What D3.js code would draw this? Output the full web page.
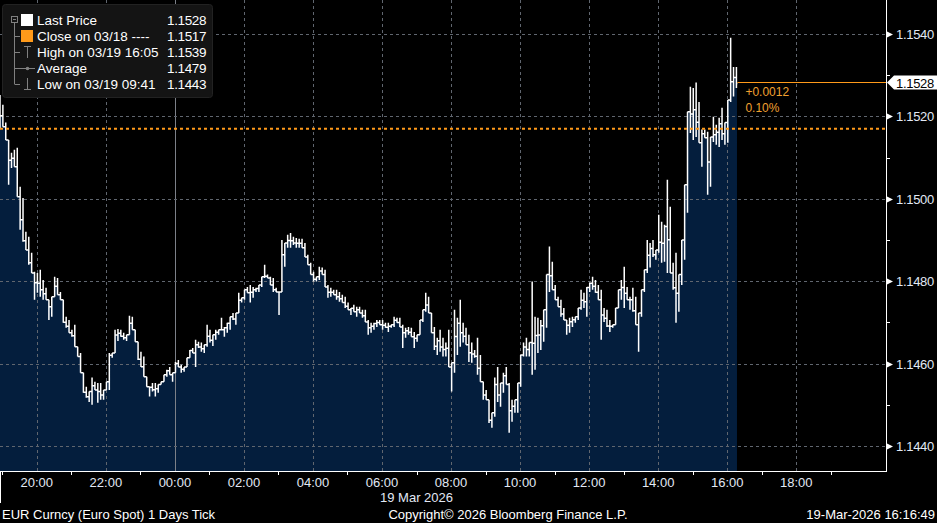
<!DOCTYPE html>
<meta charset="utf-8">
<script src="https://d3js.org/d3.v7.min.js"></script>
<style>
  body { margin: 0; background: #000; }
  svg { display: block; font-family: "Liberation Sans", Arial, sans-serif; }
</style>
<body>
<div id="chart"></div>
<script>
// EUR spot, 5 minute bars starting 18:56 on 18 Mar 2026
var barStart = new Date(2026, 2, 18, 18, 56);
var barMinutes = 5;

var barHigh = [
  1.15252, 1.15228, 1.15185, 1.15119, 1.15112, 1.15119, 1.15124, 1.15029, 1.15002, 1.14920,
  1.14908, 1.14869, 1.14823, 1.14820, 1.14828, 1.14803, 1.14784, 1.14755, 1.14762, 1.14811,
  1.14808, 1.14774, 1.14755, 1.14714, 1.14706, 1.14682, 1.14694, 1.14641, 1.14626, 1.14549,
  1.14544, 1.14532, 1.14566, 1.14556, 1.14553, 1.14553, 1.14536, 1.14556, 1.14626, 1.14626,
  1.14682, 1.14684, 1.14682, 1.14675, 1.14670, 1.14716, 1.14714, 1.14682, 1.14653, 1.14629,
  1.14617, 1.14566, 1.14544, 1.14553, 1.14553, 1.14549, 1.14556, 1.14573, 1.14585, 1.14592,
  1.14578, 1.14604, 1.14609, 1.14597, 1.14592, 1.14614, 1.14633, 1.14638, 1.14658, 1.14653,
  1.14651, 1.14646, 1.14694, 1.14682, 1.14670, 1.14682, 1.14682, 1.14711, 1.14689, 1.14699,
  1.14714, 1.14723, 1.14723, 1.14772, 1.14760, 1.14779, 1.14786, 1.14791, 1.14786, 1.14784,
  1.14791, 1.14811, 1.14840, 1.14816, 1.14811, 1.14808, 1.14784, 1.14774, 1.14900, 1.14893,
  1.14913, 1.14917, 1.14908, 1.14905, 1.14903, 1.14903, 1.14893, 1.14864, 1.14845, 1.14823,
  1.14811, 1.14835, 1.14833, 1.14828, 1.14791, 1.14784, 1.14779, 1.14779, 1.14774, 1.14767,
  1.14762, 1.14748, 1.14735, 1.14743, 1.14738, 1.14738, 1.14731, 1.14731, 1.14706, 1.14699,
  1.14699, 1.14706, 1.14706, 1.14706, 1.14699, 1.14699, 1.14694, 1.14714, 1.14711, 1.14711,
  1.14694, 1.14687, 1.14689, 1.14687, 1.14677, 1.14670, 1.14706, 1.14731, 1.14772, 1.14762,
  1.14723, 1.14689, 1.14663, 1.14682, 1.14663, 1.14651, 1.14682, 1.14602, 1.14731, 1.14711,
  1.14755, 1.14699, 1.14687, 1.14670, 1.14651, 1.14633, 1.14663, 1.14621, 1.14556, 1.14536,
  1.14488, 1.14481, 1.14566, 1.14592, 1.14553, 1.14578, 1.14592, 1.14553, 1.14512, 1.14512,
  1.14553, 1.14621, 1.14651, 1.14663, 1.14651, 1.14799, 1.14714, 1.14711, 1.14706, 1.14731,
  1.14816, 1.14884, 1.14847, 1.14791, 1.14762, 1.14755, 1.14735, 1.14706, 1.14711, 1.14714,
  1.14714, 1.14735, 1.14779, 1.14772, 1.14786, 1.14796, 1.14811, 1.14803, 1.14791, 1.14779,
  1.14735, 1.14731, 1.14706, 1.14694, 1.14735, 1.14779, 1.14803, 1.14835, 1.14786, 1.14762,
  1.14784, 1.14762, 1.14723, 1.14779, 1.14828, 1.14900, 1.14893, 1.14900, 1.14876, 1.14961,
  1.14944, 1.14937, 1.15046, 1.14981, 1.14845, 1.14869, 1.14816, 1.14900, 1.15034, 1.15211,
  1.15272, 1.15269, 1.15282, 1.15235, 1.15168, 1.15168, 1.15163, 1.15150, 1.15199, 1.15180,
  1.15197, 1.15221, 1.15185, 1.15240, 1.15391, 1.15320, 1.15320
];

var barLow = [
  1.15172, 1.15175, 1.15143, 1.15034, 1.15075, 1.15078, 1.15005, 1.14925, 1.14896, 1.14876,
  1.14840, 1.14820, 1.14755, 1.14772, 1.14762, 1.14755, 1.14755, 1.14706, 1.14714, 1.14772,
  1.14767, 1.14755, 1.14699, 1.14687, 1.14675, 1.14665, 1.14641, 1.14617, 1.14578, 1.14529,
  1.14517, 1.14507, 1.14500, 1.14536, 1.14505, 1.14512, 1.14512, 1.14544, 1.14536, 1.14614,
  1.14633, 1.14655, 1.14665, 1.14658, 1.14655, 1.14675, 1.14682, 1.14653, 1.14609, 1.14592,
  1.14568, 1.14544, 1.14520, 1.14532, 1.14520, 1.14529, 1.14549, 1.14556, 1.14568, 1.14573,
  1.14556, 1.14585, 1.14592, 1.14578, 1.14580, 1.14592, 1.14614, 1.14626, 1.14592, 1.14638,
  1.14629, 1.14626, 1.14641, 1.14651, 1.14643, 1.14658, 1.14670, 1.14682, 1.14665, 1.14675,
  1.14682, 1.14706, 1.14694, 1.14723, 1.14748, 1.14755, 1.14772, 1.14748, 1.14760, 1.14774,
  1.14774, 1.14786, 1.14808, 1.14808, 1.14791, 1.14774, 1.14774, 1.14718, 1.14779, 1.14835,
  1.14881, 1.14881, 1.14888, 1.14881, 1.14881, 1.14881, 1.14859, 1.14840, 1.14816, 1.14799,
  1.14799, 1.14803, 1.14816, 1.14786, 1.14760, 1.14762, 1.14767, 1.14755, 1.14750, 1.14748,
  1.14735, 1.14731, 1.14718, 1.14726, 1.14714, 1.14723, 1.14711, 1.14701, 1.14670, 1.14675,
  1.14682, 1.14689, 1.14694, 1.14682, 1.14687, 1.14677, 1.14687, 1.14689, 1.14699, 1.14689,
  1.14638, 1.14663, 1.14670, 1.14665, 1.14638, 1.14653, 1.14699, 1.14701, 1.14726, 1.14723,
  1.14675, 1.14633, 1.14621, 1.14629, 1.14617, 1.14617, 1.14592, 1.14532, 1.14578, 1.14621,
  1.14641, 1.14651, 1.14646, 1.14604, 1.14602, 1.14614, 1.14573, 1.14556, 1.14512, 1.14512,
  1.14456, 1.14444, 1.14471, 1.14507, 1.14495, 1.14529, 1.14549, 1.14432, 1.14459, 1.14481,
  1.14481, 1.14544, 1.14617, 1.14617, 1.14617, 1.14573, 1.14585, 1.14626, 1.14633, 1.14653,
  1.14687, 1.14774, 1.14779, 1.14755, 1.14738, 1.14714, 1.14706, 1.14670, 1.14675, 1.14689,
  1.14699, 1.14706, 1.14731, 1.14735, 1.14714, 1.14774, 1.14779, 1.14772, 1.14755, 1.14658,
  1.14701, 1.14689, 1.14677, 1.14687, 1.14706, 1.14755, 1.14755, 1.14735, 1.14755, 1.14731,
  1.14726, 1.14694, 1.14629, 1.14714, 1.14774, 1.14820, 1.14833, 1.14859, 1.14852, 1.14869,
  1.14845, 1.14847, 1.14820, 1.14820, 1.14779, 1.14699, 1.14726, 1.14791, 1.14852, 1.14966,
  1.15160, 1.15143, 1.15150, 1.15136, 1.15078, 1.15148, 1.15010, 1.15029, 1.15138, 1.15131,
  1.15126, 1.15143, 1.15131, 1.15136, 1.15235, 1.15248, 1.15269
];

var yTicks = [1.1440, 1.1460, 1.1480, 1.1500, 1.1520, 1.1540];
var yMinorTicks = [1.1450, 1.1470, 1.1490, 1.1510, 1.1530];
var prevClose = 1.1517;
var lastPrice = 1.1528;
var changeLabels = ["+0.0012", "0.10%"];
var dateLabel = "19 Mar 2026";

var legendNames = ["Last Price", "Close on 03/18 ----", "High on 03/19 16:05", "Average", "Low on 03/19 09:41"];
var legendValues = ["1.1528", "1.1517", "1.1539", "1.1479", "1.1443"];

var footerLeft = "EUR Curncy (Euro Spot) 1 Days Tick";
var footerMid = "Copyright\u00a9 2026 Bloomberg Finance L.P.";
var footerRight = "19-Mar-2026 16:16:49";

var W = 937, H = 523;
var plotRight = 886, plotBottom = 471;
var orange = "#ff9a1a";
var axisText = "#e2e9f5";
var gridColor = "#60666f";

var svg = d3.select("#chart").append("svg")
  .attr("width", W)
  .attr("height", H);

svg.append("rect").attr("width", W).attr("height", H).attr("fill", "#000");

var x = d3.scaleTime()
  .domain([new Date(2026, 2, 18, 18, 56), new Date(2026, 2, 19, 20, 36)])
  .range([0, plotRight]);

var y = d3.scaleLinear()
  .domain([1.1440, 1.1540])
  .range([446, 34]);

svg.append("clipPath").attr("id", "plotclip")
  .append("rect").attr("width", plotRight).attr("height", plotBottom);

var plot = svg.append("g").attr("clip-path", "url(#plotclip)");

// bars and the level where each one hands over to the next
var bars = barHigh.map(function(h, i) {
  return { t: d3.timeMinute.offset(barStart, i * barMinutes), hi: h, lo: barLow[i] };
});
bars.forEach(function(b, i) {
  var target = i < bars.length - 1 ? (bars[i + 1].hi + bars[i + 1].lo) / 2 : lastPrice;
  b.c = Math.max(b.lo, Math.min(b.hi, target));
});

// filled area under the price
var areaPts = bars.concat([{ t: d3.timeMinute.offset(bars[bars.length - 1].t, 1), c: bars[bars.length - 1].c }]);
plot.append("path")
  .datum(areaPts)
  .attr("fill", "#041e3d")
  .attr("d", d3.area()
    .x(function(d) { return x(d.t); })
    .y0(plotBottom)
    .y1(function(d) { return y(d.c); })
    .curve(d3.curveStepAfter));

// grid
var evenHours = d3.timeHour.every(2).range(new Date(2026, 2, 18, 20), new Date(2026, 2, 19, 19));
plot.selectAll(".vgrid")
  .data(evenHours)
  .enter().append("line")
    .attr("x1", function(d) { return Math.round(x(d)) + 0.5; })
    .attr("x2", function(d) { return Math.round(x(d)) + 0.5; })
    .attr("y1", 0)
    .attr("y2", plotBottom)
    .attr("stroke", function(d) { return d.getHours() === 0 ? "#7c8088" : gridColor; })
    .attr("stroke-dasharray", function(d) { return d.getHours() === 0 ? null : "3,3"; });

plot.selectAll(".hgrid")
  .data(yTicks)
  .enter().append("line")
    .attr("x1", 0)
    .attr("x2", plotRight)
    .attr("y1", function(d) { return Math.round(y(d)) + 0.5; })
    .attr("y2", function(d) { return Math.round(y(d)) + 0.5; })
    .attr("stroke", gridColor)
    .attr("stroke-dasharray", "3,3");

// white bars
var pathD = "";
bars.forEach(function(b, i) {
  var bx = x(b.t);
  var top = b.hi, bot = b.lo;
  if (i > 0) { top = Math.max(top, bars[i - 1].c); bot = Math.min(bot, bars[i - 1].c); }
  pathD += "M" + bx + "," + y(top) + "V" + y(bot);
  var nx = i < bars.length - 1 ? x(bars[i + 1].t) : bx + 1;
  pathD += "M" + bx + "," + y(b.c) + "H" + nx;
});
plot.append("path")
  .attr("d", pathD)
  .attr("fill", "none")
  .attr("stroke", "#fff")
  .attr("stroke-width", 1.5);

// previous close
plot.append("line")
  .attr("x1", 0).attr("x2", plotRight)
  .attr("y1", y(prevClose)).attr("y2", y(prevClose))
  .attr("stroke", orange)
  .attr("stroke-width", 2)
  .attr("stroke-dasharray", "3,3");

// last price line and change
var lastX = x(bars[bars.length - 1].t) + 1;
var ly = Math.round(y(lastPrice)) - 0.5;
svg.append("line")
  .attr("x1", lastX).attr("x2", plotRight)
  .attr("y1", ly).attr("y2", ly)
  .attr("stroke", orange)
  .attr("stroke-width", 1.2);

svg.selectAll(".chg")
  .data(changeLabels)
  .enter().append("text")
    .attr("x", lastX + 8)
    .attr("y", function(d, i) { return y(lastPrice) + 13 + i * 16; })
    .attr("fill", "#f0a030")
    .style("font-size", "12px")
    .text(function(d) { return d; });

// right axis
svg.append("line")
  .attr("x1", plotRight + 0.5).attr("x2", plotRight + 0.5)
  .attr("y1", 0).attr("y2", plotBottom)
  .attr("stroke", "#fff");

svg.selectAll(".ytri")
  .data(yTicks)
  .enter().append("path")
    .attr("d", function(d) {
      var ty = Math.round(y(d)) + 0.5;
      return "M" + (plotRight + 1) + "," + (ty - 3) + "L" + (plotRight + 7) + "," + ty + "L" + (plotRight + 1) + "," + (ty + 3) + "Z";
    })
    .attr("fill", "#fff");

svg.selectAll(".yminor")
  .data(yMinorTicks)
  .enter().append("line")
    .attr("x1", plotRight).attr("x2", plotRight + 4)
    .attr("y1", function(d) { return Math.round(y(d)) + 0.5; })
    .attr("y2", function(d) { return Math.round(y(d)) + 0.5; })
    .attr("stroke", "#fff");

svg.selectAll(".ylab")
  .data(yTicks)
  .enter().append("text")
    .attr("x", plotRight + 10)
    .attr("y", function(d) { return y(d) + 5; })
    .attr("fill", axisText)
    .style("font-size", "13px")
    .style("letter-spacing", "-0.3px")
    .text(function(d) { return d3.format(".4f")(d); });

// last price tag
svg.append("path")
  .attr("d", "M" + (plotRight + 1) + "," + ly + "L" + (plotRight + 8) + "," + (ly - 7) + "H" + W + "V" + (ly + 7) + "H" + (plotRight + 8) + "Z")
  .attr("fill", "#fff");
svg.append("text")
  .attr("x", plotRight + 10)
  .attr("y", ly + 5)
  .attr("fill", "#000")
  .style("font-size", "13px")
  .style("letter-spacing", "-0.3px")
  .text(d3.format(".4f")(lastPrice));

// bottom axis
svg.append("line")
  .attr("x1", 0).attr("x2", plotRight + 1)
  .attr("y1", plotBottom + 0.5).attr("y2", plotBottom + 0.5)
  .attr("stroke", "#fff");
svg.append("line")
  .attr("x1", 0.5).attr("x2", 0.5)
  .attr("y1", plotBottom).attr("y2", 503)
  .attr("stroke", "#fff");

var oddHours = d3.timeHour.every(1).range(new Date(2026, 2, 18, 19), new Date(2026, 2, 19, 20))
  .filter(function(d) { return d.getHours() % 2 === 1; });
svg.selectAll(".xtick")
  .data(oddHours)
  .enter().append("line")
    .attr("x1", function(d) { return Math.round(x(d)) + 0.5; })
    .attr("x2", function(d) { return Math.round(x(d)) + 0.5; })
    .attr("y1", plotBottom).attr("y2", plotBottom + 4)
    .attr("stroke", "#fff");

svg.selectAll(".xlab")
  .data(evenHours)
  .enter().append("text")
    .attr("x", function(d) { return x(d); })
    .attr("y", 487)
    .attr("text-anchor", "middle")
    .attr("fill", axisText)
    .style("font-size", "13px")
    .text(d3.timeFormat("%H:%M"));

svg.append("text")
  .attr("x", x(new Date(2026, 2, 19, 7)))
  .attr("y", 502)
  .attr("text-anchor", "middle")
  .attr("fill", axisText)
  .style("font-size", "13px")
  .text(dateLabel);

// footer
svg.append("text").attr("x", 2).attr("y", 519).attr("fill", "#fff")
  .style("font-size", "13px").text(footerLeft);
svg.append("text").attr("x", 508).attr("y", 519).attr("fill", "#fff")
  .attr("text-anchor", "middle").style("font-size", "13px").text(footerMid);
svg.append("text").attr("x", 935).attr("y", 519).attr("fill", "#fff")
  .attr("text-anchor", "end").style("font-size", "13px").text(footerRight);

// legend
var lg = svg.append("g");
lg.append("rect")
  .attr("x", 2.5).attr("y", 4.5).attr("width", 210).attr("height", 93).attr("rx", 3)
  .attr("fill", "#141414").attr("stroke", "#222");

var rowY = function(i) { return 20 + i * 16; };
var icon = "#808080";
lg.append("rect").attr("x", 11.5).attr("y", 16.5).attr("width", 6).attr("height", 6)
  .attr("fill", "none").attr("stroke", icon);
lg.append("line").attr("x1", 13).attr("x2", 16).attr("y1", 19.5).attr("y2", 19.5).attr("stroke", icon);
lg.append("line").attr("x1", 14.5).attr("x2", 14.5).attr("y1", 23).attr("y2", rowY(4)).attr("stroke", icon);
[1, 2, 3, 4].forEach(function(i) {
  lg.append("line").attr("x1", 14.5).attr("x2", 20).attr("y1", rowY(i) + 0.5).attr("y2", rowY(i) + 0.5).attr("stroke", icon);
});
lg.append("rect").attr("x", 21).attr("y", rowY(0) - 6).attr("width", 12).attr("height", 12).attr("fill", "#fff");
lg.append("rect").attr("x", 21).attr("y", rowY(1) - 6).attr("width", 12).attr("height", 12).attr("fill", orange);
// high marker
lg.append("path").attr("d", "M24," + (rowY(2) - 5.5) + "H31M27.5," + (rowY(2) - 5.5) + "V" + (rowY(2) + 6))
  .attr("stroke", icon).attr("fill", "none");
// average marker
lg.append("line").attr("x1", 20).attr("x2", 35).attr("y1", rowY(3) + 0.5).attr("y2", rowY(3) + 0.5).attr("stroke", icon);
lg.append("circle").attr("cx", 27.5).attr("cy", rowY(3) + 0.5).attr("r", 1.8).attr("fill", icon);
// low marker
lg.append("path").attr("d", "M27.5," + (rowY(4) - 6) + "V" + (rowY(4) + 5.5) + "M24," + (rowY(4) + 5.5) + "H31")
  .attr("stroke", icon).attr("fill", "none");

lg.selectAll(".lname")
  .data(legendNames)
  .enter().append("text")
    .attr("x", 37)
    .attr("y", function(d, i) { return rowY(i) + 5; })
    .attr("fill", "#fff")
    .style("font-size", "13.5px")
    .text(function(d) { return d; });

lg.selectAll(".lval")
  .data(legendValues)
  .enter().append("text")
    .attr("x", 206)
    .attr("y", function(d, i) { return rowY(i) + 5; })
    .attr("text-anchor", "end")
    .attr("fill", "#fff")
    .style("font-size", "13.5px")
    .style("letter-spacing", "-0.4px")
    .text(function(d) { return d; });
</script>
</body>
